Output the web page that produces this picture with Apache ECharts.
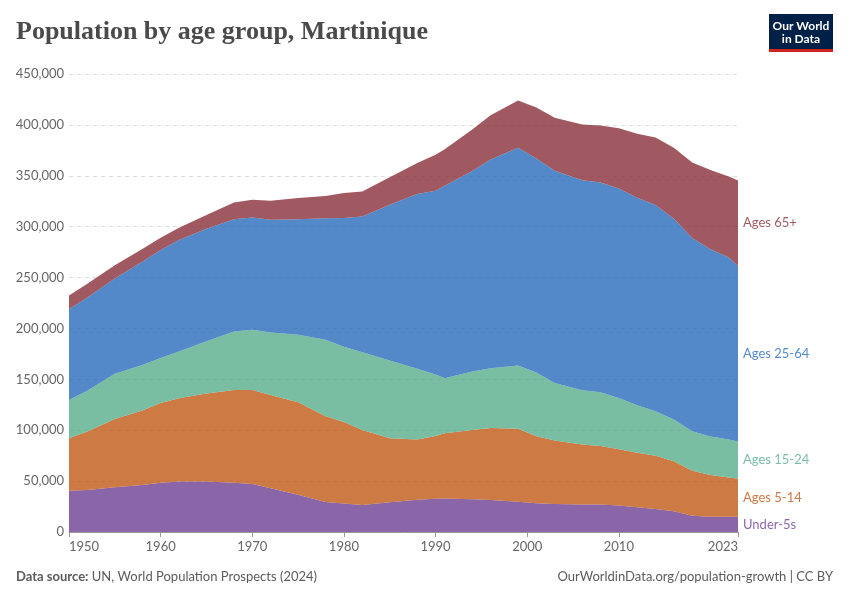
<!DOCTYPE html>
<html>
<head>
<meta charset="utf-8">
<script src="https://cdn.jsdelivr.net/npm/echarts@6/dist/echarts.min.js"></script>
<style>
html,body{margin:0;padding:0;background:#fff;}
#chart{width:850px;height:600px;}
</style>
</head>
<body>
<div id="chart"></div>
<script>
const years = [1950,1952,1955,1958,1960,1962,1965,1968,1970,1972,1975,1978,1980,1982,1985,1988,1990,1991,1994,1996,1999,2001,2003,2006,2008,2010,2012,2014,2016,2018,2020,2022,2023];
const under5 = [40600,41200,44000,46100,48500,49500,49500,48500,47200,43000,36500,29400,28000,26500,29300,31800,32700,32800,32300,31500,29600,28300,27500,27000,27000,26100,24200,22500,20300,16000,15000,15000,15000];
const ages5_14 = [51500,57500,67000,73200,78200,81900,86500,91100,92400,91600,91000,84300,80000,73800,62700,59000,61700,64200,68000,70800,71900,65900,62500,59000,57600,55300,53600,52300,49300,44100,40900,38600,37300];
const ages15_24 = [37700,40200,44500,44800,44300,45900,51500,57300,59000,61500,66200,75200,74000,76400,76500,69500,60300,54100,57500,58700,62000,62400,56500,53300,52700,50300,46700,43800,40900,38900,37900,37300,36600];
const ages25_64 = [89100,91600,93500,101400,106000,109700,110500,110500,110400,110800,113700,119300,126500,133300,153000,171700,180600,189100,197000,205000,214000,210400,208500,206200,206200,205900,203900,202600,197300,189900,184000,178700,172500];
const ages65 = [13400,13500,13200,12500,12000,12000,13500,16400,17400,18600,20700,21900,24500,24600,27000,30500,35400,35800,40700,43500,46500,50000,52000,55000,56000,59100,62800,66400,69700,74200,77800,79700,84000];

const seriesNames = ['Under-5s','Ages 5-14','Ages 15-24','Ages 25-64','Ages 65+'];
const seriesData = [under5, ages5_14, ages15_24, ages25_64, ages65];
const colors = ['#6D3E91','#C05917','#58AC8C','#286BBB','#883039'];
const xTicks = ['1950','1960','1970','1980','1990','2000','2010','2023'];

// full yearly category axis (positions only); marks are placed only at the read years
const firstYear = years[0], lastYear = years[years.length - 1];
const axisYears = [];
for (let y = firstYear; y <= lastYear; y++) axisYears.push(String(y));

const chart = echarts.init(document.getElementById('chart'), null, {renderer:'canvas'});

const series = seriesData.map((arr, i) => ({
  name: seriesNames[i],
  type: 'line',
  stack: 'total',
  symbol: 'none',
  smooth: false,
  connectNulls: true,
  lineStyle: {width: 0},
  areaStyle: {color: colors[i], opacity: 0.8},
  itemStyle: {color: colors[i]},
  data: years.map((y, j) => [String(y), arr[j]]),
  z: 2
}));

const last = years.length - 1;
let cum = 0;
const labelData = seriesData.map((arr, i) => {
  const mid = cum + arr[last] / 2;
  cum += arr[last];
  return {
    value: [String(years[last]), mid],
    label: {show: true, position: 'right', distance: 5, formatter: seriesNames[i], color: colors[i], fontSize: 13, fontFamily: 'Lato'}
  };
});
series.push({
  type: 'scatter',
  symbolSize: 0,
  silent: true,
  data: labelData,
  z: 5
});

const option = {
  animation: false,
  grid: {left: 69, right: 112, top: 74, bottom: 68, containLabel: false},
  xAxis: {
    type: 'category',
    data: axisYears,
    boundaryGap: false,
    splitLine: {show: false},
    axisLine: {show: true, lineStyle: {color: '#999', width: 1}},
    axisTick: {show: true, alignWithLabel: true, interval: (idx, val) => xTicks.indexOf(val) >= 0, length: 5, lineStyle: {color: '#999'}},
    axisLabel: {interval: (idx, val) => xTicks.indexOf(val) >= 0, color: '#666', fontSize: 13, fontFamily: 'Lato', margin: 8,
      alignMinLabel: 'left', alignMaxLabel: 'right'}
  },
  yAxis: {
    type: 'value',
    min: 0, max: 450000, interval: 50000,
    axisLine: {show: false},
    axisTick: {show: false},
    axisLabel: {color: '#666', fontSize: 13, fontFamily: 'Lato', margin: 5,
      formatter: v => v.toLocaleString('en-US')},
    splitLine: {show: true, lineStyle: {color: '#ddd', type: [4, 4], width: 1}}
  },
  series: series,
  graphic: [
    {type: 'text', left: 16, top: 19, style: {text: 'Population by age group, Martinique', font: 'bold 26px "Liberation Serif"', fill: '#4a4a4a'}},
    {type: 'rect', shape: {x: 769, y: 14, width: 64, height: 36}, style: {fill: '#002147'}},
    {type: 'rect', shape: {x: 769, y: 49, width: 64, height: 3}, style: {fill: '#ce261e'}},
    {type: 'text', x: 801, y: 26, style: {text: 'Our World', font: 'bold 12px Lato', fill: '#fff', align: 'center', verticalAlign: 'middle'}},
    {type: 'text', x: 801, y: 39, style: {text: 'in Data', font: 'bold 12px Lato', fill: '#fff', align: 'center', verticalAlign: 'middle'}},
    {type: 'text', x: 16, y: 577, style: {
      text: '{b|Data source:} UN, World Population Prospects (2024)',
      rich: {b: {font: 'bold 13px Lato', fill: '#5b5b5b'}},
      font: '13px Lato', fill: '#5b5b5b', verticalAlign: 'middle'}},
    {type: 'text', x: 833, y: 577, style: {text: 'OurWorldinData.org/population-growth | CC BY', font: '13px Lato', fill: '#5b5b5b', align: 'right', verticalAlign: 'middle'}}
  ]
};
chart.setOption(option);
</script>
</body>
</html>
